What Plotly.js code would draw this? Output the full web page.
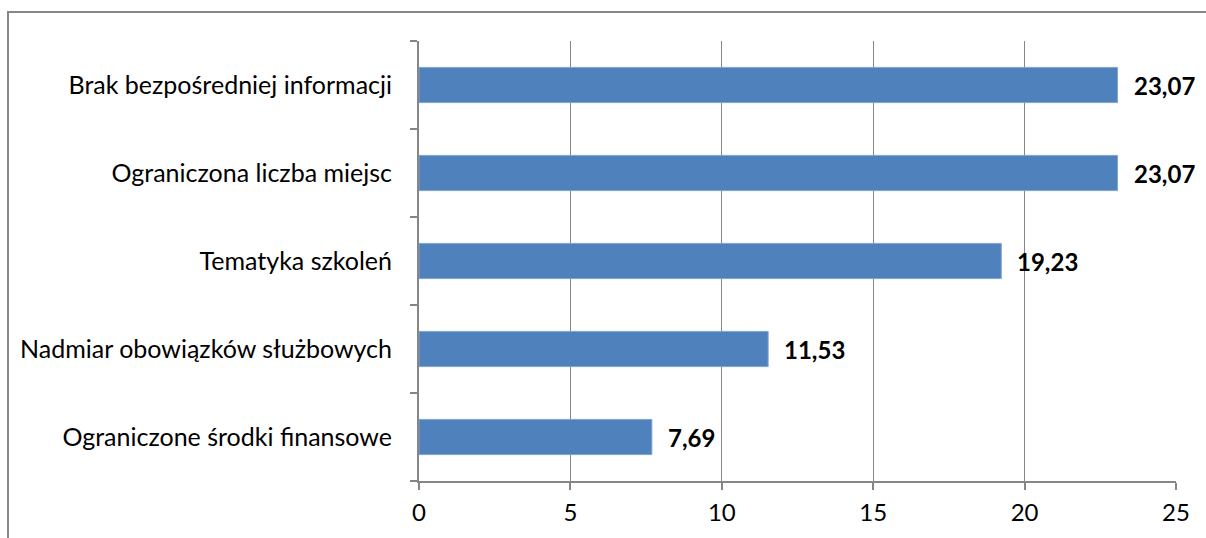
<!DOCTYPE html>
<html>
<head>
<meta charset="utf-8">
<script src="https://cdn.plot.ly/plotly-3.0.1.min.js"></script>
<style>
  html, body { margin: 0; padding: 0; background: #fff; overflow: hidden; }
  #wrap { position: relative; width: 1206px; height: 538px; overflow: hidden; }
  #frame { position: absolute; left: 7px; top: 11px; width: 1199px; height: 527px; border-left: 2px solid #878787; border-top: 2px solid #878787; box-sizing: border-box; pointer-events: none; }
  #chart { position: absolute; left: 0; top: 0; width: 1206px; height: 538px; }
</style>
</head>
<body>
<div id="wrap">
  <div id="chart"></div>
  <div id="frame"></div>
</div>
<script>
const categories = [
  "Ograniczone środki finansowe",
  "Nadmiar obowiązków służbowych",
  "Tematyka szkoleń",
  "Ograniczona liczba miejsc",
  "Brak bezpośredniej informacji"
];
const values = [7.69, 11.53, 19.23, 23.07, 23.07];
const xTicks = [0, 5, 10, 15, 20, 25];

const gray = "#868686";
const font = "Lato, 'Open Sans', sans-serif";

const fmt = v => v.toFixed(2).replace(".", ",");

Plotly.newPlot("chart", [{
  type: "bar",
  orientation: "h",
  y: categories,
  x: values,
  width: 0.4,
  marker: { color: "#4F81BD", line: { color: "#7FA3D1", width: 1 } },
  hoverinfo: "none"
}], {
  width: 1206, height: 538,
  margin: { l: 419, r: 30, t: 41, b: 57 },
  separators: ", ",
  paper_bgcolor: "rgba(0,0,0,0)",
  plot_bgcolor: "#fff",
  showlegend: false,
  annotations: categories.map((c, i) => ({
    x: values[i], y: c, xref: "x", yref: "y",
    text: "<b>" + fmt(values[i]) + "</b>",
    showarrow: false, xanchor: "left", yanchor: "middle",
    xshift: 14,
    font: { family: font, size: 24, color: "#000" }
  })),
  xaxis: {
    range: [0, 25],
    tickvals: xTicks,
    ticktext: xTicks.map(String),
    showgrid: true, gridcolor: gray, gridwidth: 1,
    zeroline: false,
    showline: true, linecolor: gray, linewidth: 2,
    ticks: "outside", ticklen: 7, tickcolor: gray, tickwidth: 2,
    tickfont: { family: font, size: 24, color: "#000" },
    ticklabelstandoff: 2,
    fixedrange: true
  },
  yaxis: {
    type: "category",
    categoryorder: "array", categoryarray: categories,
    showgrid: false,
    showline: true, linecolor: gray, linewidth: 2,
    ticks: "outside", ticklen: 7, tickcolor: gray, tickwidth: 2,
    tickson: "boundaries",
    tickfont: { family: font, size: 25, color: "#000" },
    ticklabelstandoff: 20,
    fixedrange: true
  }
}, { displayModeBar: false, staticPlot: true });
</script>
</body>
</html>
